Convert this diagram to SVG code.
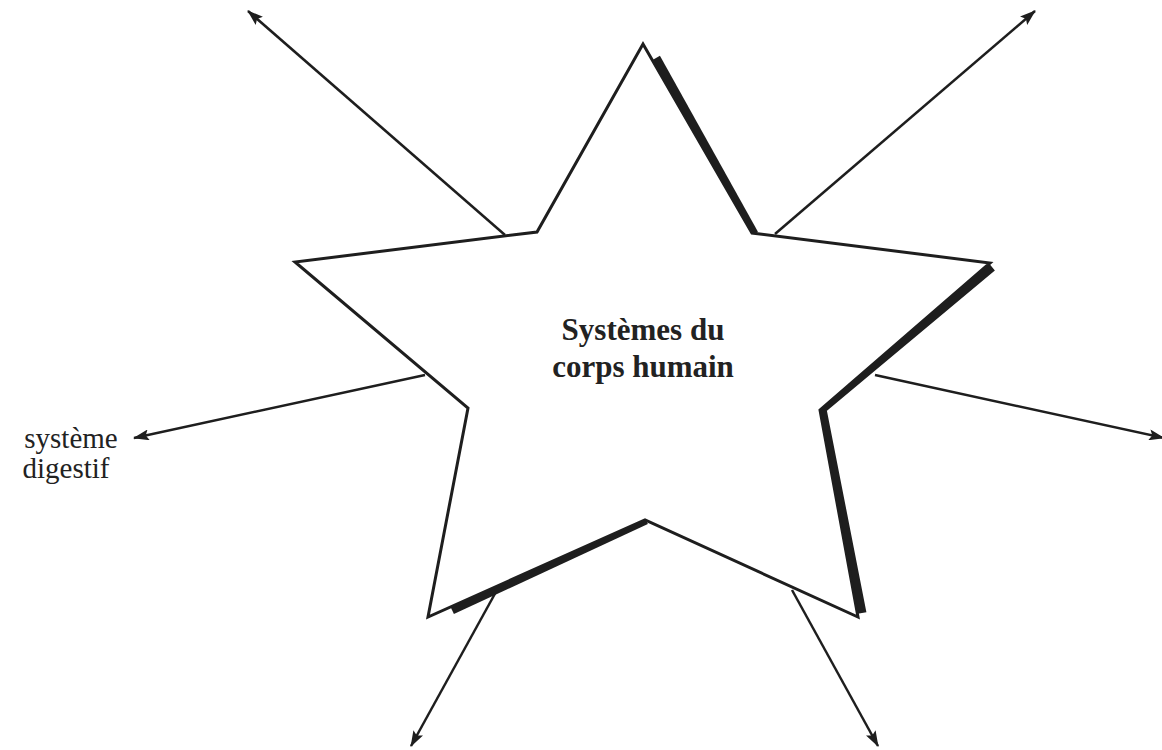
<svg xmlns="http://www.w3.org/2000/svg" width="1162" height="750" viewBox="0 0 1162 750">
<style>
.ln{stroke:#1e1e1e;stroke-width:2.5;fill:none}
.sh{stroke:#1e1e1e;stroke-width:9;fill:none;stroke-linejoin:miter}
.star{fill:#fff;stroke:#1e1e1e;stroke-width:3;stroke-linejoin:miter}
.lab{font-family:"Liberation Serif",serif;font-size:29px;fill:#222}
.title{font-family:"Liberation Serif",serif;font-size:31px;font-weight:bold;fill:#222}
</style>
<defs>
<marker id="ah" viewBox="0 0 16 11" refX="15" refY="5.5" markerWidth="16" markerHeight="11" markerUnits="userSpaceOnUse" orient="auto">
<path d="M0,0 L16,5.5 L0,11 L3,5.5 Z" fill="#1e1e1e"/>
</marker>
</defs>
<rect width="1162" height="750" fill="#fff"/>
<g id="connectors">
<line class="ln" x1="505" y1="235" x2="248" y2="11" marker-end="url(#ah)"/>
<line class="ln" x1="775" y1="234" x2="1035" y2="11" marker-end="url(#ah)"/>
<line class="ln" x1="425" y1="375" x2="134" y2="438" marker-end="url(#ah)"/>
<line class="ln" x1="875" y1="375" x2="1164" y2="438" marker-end="url(#ah)"/>
<line class="ln" x1="497" y1="590" x2="411" y2="746" marker-end="url(#ah)"/>
<line class="ln" x1="792" y1="590" x2="878" y2="746" marker-end="url(#ah)"/>
</g>
<g id="star">
<path class="sh" d="M656,58 L754,234"/>
<path class="sh" d="M992,267 L822,409 L862,613"/>
<path class="sh" d="M646,520 L452,610"/>
<path class="star" d="M643,44 L752,233 L990,263 L820,410 L858,617 L645,520 L428,617 L468,408 L295,262 L537,232 Z"/>
<text class="title" x="643" y="340" text-anchor="middle">Systèmes du</text>
<text class="title" x="643" y="377" text-anchor="middle">corps humain</text>
</g>
<g id="label-digestif">
<text class="lab" x="71" y="448" text-anchor="middle">système</text>
<text class="lab" x="66" y="478" text-anchor="middle">digestif</text>
</g>
</svg>
